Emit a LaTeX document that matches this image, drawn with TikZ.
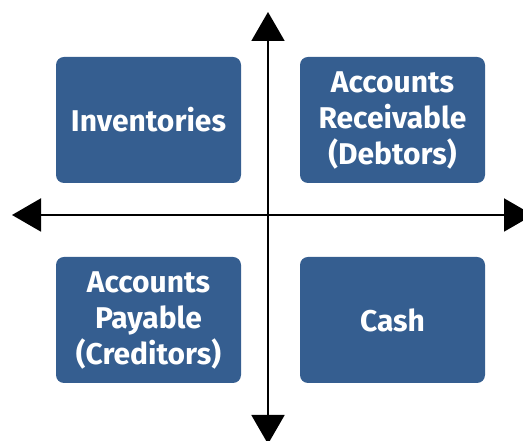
\documentclass[tikz,border=0pt]{standalone}
\usepackage{fontspec}
\setmainfont{Fira Sans}
\usepackage{tikz}
\usetikzlibrary{arrows.meta}
\definecolor{boxblue}{RGB}{53,94,144}

\begin{document}
\begin{tikzpicture}[x=1pt,y=1pt,
	quad/.style={fill=boxblue,rounded corners=8pt,minimum width=185pt,minimum height=126pt,
		text=white,font=\fontsize{30}{36}\selectfont\bfseries,align=center,inner sep=0pt},
	axis/.style={line width=2pt,-{Triangle[width=33pt,length=29pt]}}]
	\useasboundingbox (0,0) rectangle (523,441);
	\coordinate (o) at (268,226);
	\coordinate (up) at (268,429);
	\coordinate (down) at (268,-3);
	\coordinate (left) at (12,226);
	\coordinate (right) at (533,226);
	\draw[axis] (o) -- (up);
	\draw[axis] (o) -- (down);
	\draw[axis] (o) -- (left);
	\draw[axis] (o) -- (right);
	\node[quad] (inv) at (148.5,321) {Inventories};
	\node[quad] (rec) at (392.5,321) {Accounts\\Receivable\\(Debtors)};
	\node[quad] (pay) at (148.5,121) {Accounts\\Payable\\(Creditors)};
	\node[quad] (cash) at (392.5,121) {Cash};
\end{tikzpicture}
\end{document}
